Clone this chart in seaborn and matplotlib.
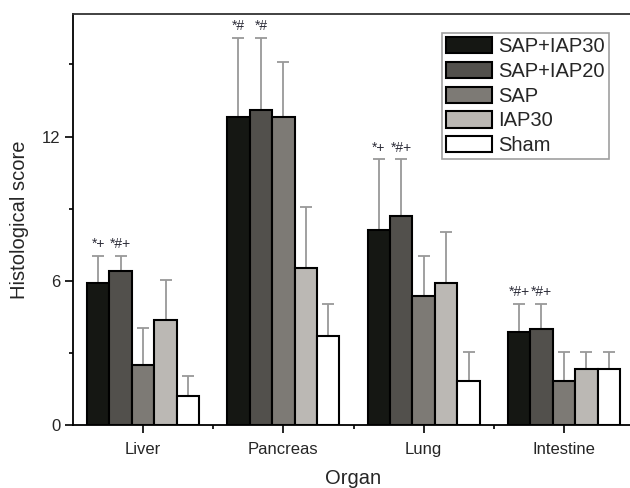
import seaborn as sns
import matplotlib.pyplot as plt
import numpy as np
import pandas as pd

organs = ["Liver", "Pancreas", "Lung", "Intestine"]
groups = ["SAP+IAP30", "SAP+IAP20", "SAP", "IAP30", "Sham"]

sap_iap30 = [5.9, 12.8, 8.1, 3.85]
sap_iap20 = [6.4, 13.1, 8.7, 4.0]
sap = [2.5, 12.8, 5.35, 1.85]
iap30 = [4.35, 6.55, 5.9, 2.35]
sham = [1.2, 3.7, 1.85, 2.35]

sd_sap_iap30 = [1.15, 3.3, 2.95, 1.2]
sd_sap_iap20 = [0.65, 3.0, 2.35, 1.05]
sd_sap = [1.55, 2.3, 1.7, 1.2]
sd_iap30 = [1.7, 2.5, 2.15, 0.7]
sd_sham = [0.85, 1.35, 1.2, 0.7]

# significance marks: (organ, group, text)
marks = [("Liver", "SAP+IAP30", "*+"), ("Liver", "SAP+IAP20", "*#+"),
         ("Pancreas", "SAP+IAP30", "*#"), ("Pancreas", "SAP+IAP20", "*#"),
         ("Lung", "SAP+IAP30", "*+"), ("Lung", "SAP+IAP20", "*#+"),
         ("Intestine", "SAP+IAP30", "*#+"), ("Intestine", "SAP+IAP20", "*#+")]

means = [sap_iap30, sap_iap20, sap, iap30, sham]
sds = [sd_sap_iap30, sd_sap_iap20, sd_sap, sd_iap30, sd_sham]
colors = ["#151713", "#52504c", "#7d7a75", "#bbb8b4", "#ffffff"]

rows = []
for g, m, s in zip(groups, means, sds):
    for o, v, e in zip(organs, m, s):
        rows.append({"Organ": o, "Group": g, "score": v, "sd": e})
df = pd.DataFrame(rows)

sns.set_style("ticks")
plt.rcParams['font.family'] = ['Liberation Sans', 'DejaVu Sans']

fig = plt.figure(figsize=(6.3, 4.88), dpi=100)
ax = fig.add_axes([73 / 630, 63 / 488, 561 / 630, 411 / 488])

sns.barplot(data=df, x="Organ", y="score", hue="Group", order=organs,
            hue_order=groups, palette=colors, errorbar=None, width=0.8,
            edgecolor="black", linewidth=1.5, saturation=1, ax=ax, zorder=2)

tops = {}
for g, cont in zip(groups, ax.containers):
    sub = df[df.Group == g].set_index("Organ").loc[organs]
    xs = [b.get_x() + b.get_width() / 2 for b in cont]
    ax.errorbar(xs, sub.score, yerr=[np.zeros(len(xs)), sub.sd], fmt="none",
                ecolor="#999999", elinewidth=1.3, capsize=4, capthick=1.3,
                zorder=1)
    for o, x, v, e in zip(organs, xs, sub.score, sub.sd):
        tops[(o, g)] = (x, v + e)

for o, g, t in marks:
    x, y = tops[(o, g)]
    ax.text(x, y + 0.2, t, ha="center", va="bottom", fontsize=10,
            color="#2e2e3a")

ax.set_xlim(-0.5, 3.5)
ax.set_ylim(0, 17.1)
ax.set_yticks([0, 6, 12])
ax.set_yticks([3, 9, 15], minor=True)
ax.set_xticks([0.5, 1.5, 2.5], minor=True)
ax.tick_params(axis="y", which="major", length=5.5, width=1.2, pad=3.5,
               labelsize=12, color="black")
ax.tick_params(axis="x", which="major", length=5.5, width=1.2, pad=6.5,
               labelsize=12, color="black")
ax.tick_params(axis="both", which="minor", length=3.2, width=1.2,
               color="black")
ax.set_xlabel("Organ", fontsize=14.5, labelpad=9)
ax.set_ylabel("Histological score", fontsize=14.5, labelpad=9)

for side in ["left", "bottom", "top"]:
    ax.spines[side].set_visible(True)
    ax.spines[side].set_color("black")
    ax.spines[side].set_linewidth(1.3)
ax.spines["top"].set_color("#333333")
ax.spines["right"].set_visible(False)

leg = ax.legend(loc="upper left", bbox_to_anchor=(0.657, 0.954),
                borderaxespad=0, fontsize=14.5, frameon=True, fancybox=False,
                edgecolor="#888888", handlelength=2.3, handleheight=0.85,
                handletextpad=0.3, labelspacing=0.29, borderpad=0.2)
leg.get_frame().set_linewidth(1.2)

fig.savefig("out.png", dpi=100)
